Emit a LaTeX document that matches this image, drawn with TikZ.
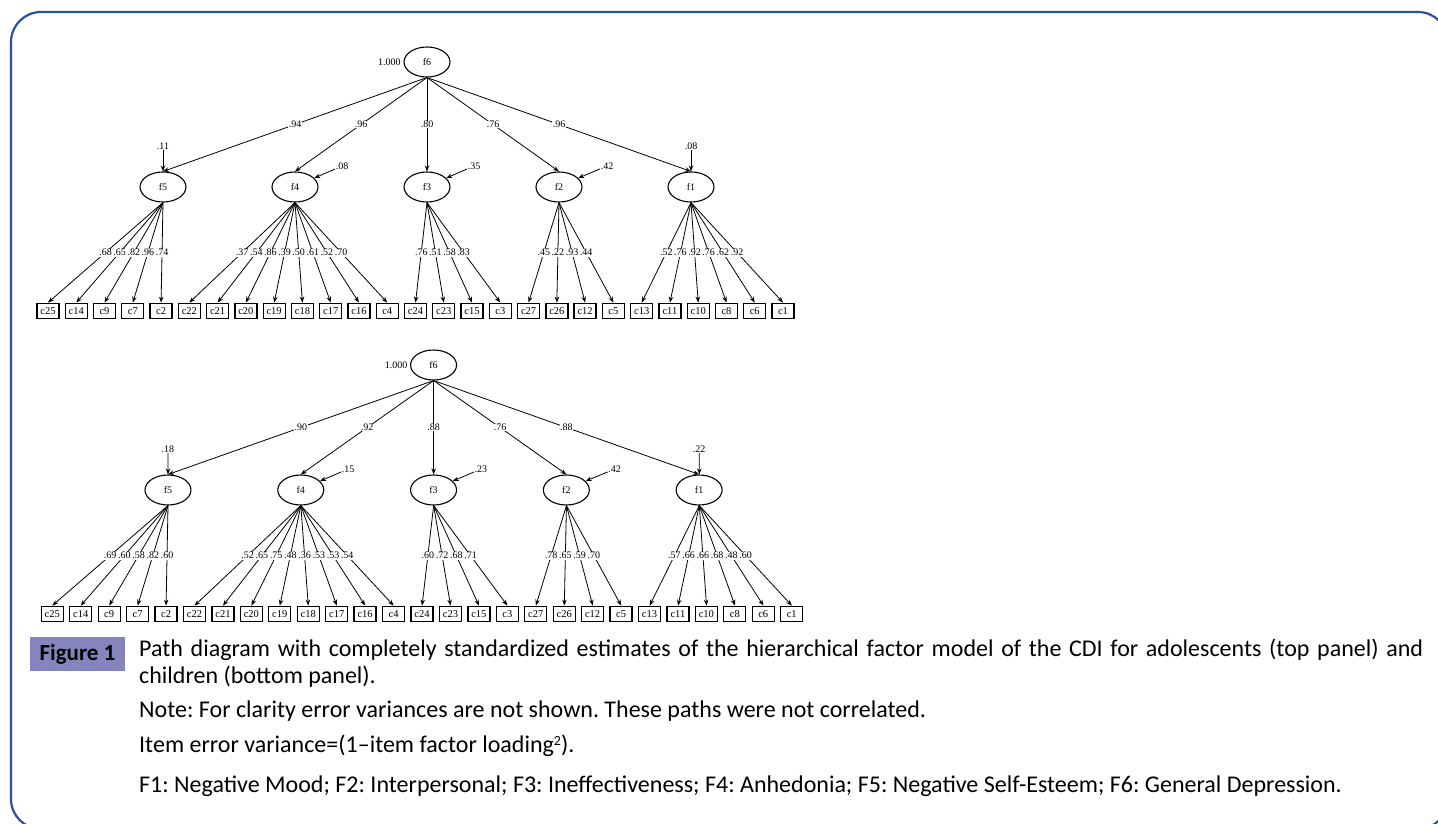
\documentclass[tikz,border=0pt]{standalone}
\usepackage{fontspec}
\setmainfont{Carlito}
\newfontfamily\semfont{Liberation Serif}
\usetikzlibrary{shapes.geometric,arrows.meta,positioning}
\frenchspacing

\definecolor{frameblue}{RGB}{46,78,160}
\definecolor{figlabel}{RGB}{134,132,188}

\tikzset{
  latent/.style={ellipse, draw, line width=1.1pt, minimum width=46pt, minimum height=30pt, inner sep=0pt, font=\semfont\fontsize{10}{10}\selectfont},
  item/.style={draw, line width=1.3pt, minimum width=22pt, minimum height=15.5pt, inner xsep=3pt, inner ysep=0pt, font=\semfont\fontsize{10.5}{10.5}\selectfont},
  load/.style={-{Stealth[length=6pt,width=4.5pt]}, line width=0.8pt},
  coef/.style={fill=white, inner sep=0.6pt, font=\semfont\fontsize{10}{10}\selectfont},
  capline/.style={anchor=base west, inner sep=0pt, font=\fontsize{24}{28}\selectfont},
}

\begin{document}
\begin{tikzpicture}[x=1pt, y=-1pt]
\useasboundingbox (0,0) rectangle (1438,824);
\clip (0,0) rectangle (1438,824);
\draw[frameblue, line width=2.2pt, rounded corners=30pt] (11,12) rectangle (1448,829);

% adolescents (top panel)
\node[latent] (af6) at (427,62) {f6};
\node[coef, left=2pt of af6] (av6) {1.000};
\foreach \f/\x/\g in {5/163/.94, 4/295/.96, 3/427/.80, 2/559/.76, 1/691/.96} {
  \node[latent] (af\f) at (\x,187) {f\f};
  \draw[load] (af6.south) -- node[coef] (ag\f) {\g} (af\f.north);
}
\node[coef] (ad5) at (163,146) {.11};
\node[coef] (ad4) at (342,166) {.08};
\node[coef] (ad3) at (474,166) {.35};
\node[coef] (ad2) at (607,166) {.42};
\node[coef] (ad1) at (691,146) {.08};
\draw[load] (ad5) -- (af5.north);
\foreach \f in {4,3,2} \draw[load] (ad\f) -- (af\f.25);
\draw[load] (ad1) -- (af1.north);
\foreach \cn/\f/\ld [count=\i from 0] in {25/5/.68, 14/5/.65, 9/5/.82, 7/5/.96, 2/5/.74,
    22/4/.37, 21/4/.54, 20/4/.86, 19/4/.39, 18/4/.50, 17/4/.61, 16/4/.52, 4/4/.70,
    24/3/.76, 23/3/.51, 15/3/.58, 3/3/.83, 27/2/.45, 26/2/.22, 12/2/.93, 5/2/.44,
    13/1/.52, 11/1/.76, 10/1/.92, 8/1/.76, 6/1/.62, 1/1/.92} {
  \node[item] (ac\cn) at ({48+28.27*\i},311) {c\cn};
  \draw[load] (af\f.south) -- node[coef] (al\cn) {\ld} (ac\cn.north);
}

% children (bottom panel)
\begin{scope}[shift={(4,303)}, xscale=1.006]
\node[latent] (bf6) at (427,62) {f6};
\node[coef, left=2pt of bf6] (bv6) {1.000};
\foreach \f/\x/\g in {5/163/.90, 4/295/.92, 3/427/.88, 2/559/.76, 1/691/.88} {
  \node[latent] (bf\f) at (\x,187) {f\f};
  \draw[load] (bf6.south) -- node[coef] (bg\f) {\g} (bf\f.north);
}
\node[coef] (bd5) at (163,146) {.18};
\node[coef] (bd4) at (342,166) {.15};
\node[coef] (bd3) at (474,166) {.23};
\node[coef] (bd2) at (607,166) {.42};
\node[coef] (bd1) at (691,146) {.22};
\draw[load] (bd5) -- (bf5.north);
\foreach \f in {4,3,2} \draw[load] (bd\f) -- (bf\f.25);
\draw[load] (bd1) -- (bf1.north);
\foreach \cn/\f/\ld [count=\i from 0] in {25/5/.69, 14/5/.60, 9/5/.58, 7/5/.82, 2/5/.60,
    22/4/.52, 21/4/.65, 20/4/.75, 19/4/.48, 18/4/.36, 17/4/.53, 16/4/.53, 4/4/.54,
    24/3/.60, 23/3/.72, 15/3/.68, 3/3/.71, 27/2/.78, 26/2/.65, 12/2/.59, 5/2/.70,
    13/1/.57, 11/1/.66, 10/1/.66, 8/1/.68, 6/1/.48, 1/1/.60} {
  \node[item] (bc\cn) at ({48+28.27*\i},311) {c\cn};
  \draw[load] (bf\f.south) -- node[coef] (bl\cn) {\ld} (bc\cn.north);
}
\end{scope}

% caption
\node[fill=figlabel, minimum width=95pt, minimum height=34pt, inner sep=0pt,
  font=\bfseries\fontsize{23}{23}\selectfont] (figlab) at (77.5,654) {Figure 1};
\node[capline] (cap1) at (139,656) {\makebox[1284pt][s]{Path diagram with completely standardized estimates of the hierarchical factor model of the CDI for adolescents (top panel) and}};
\node[capline] (cap2) at (139,683) {children (bottom panel).};
\node[capline] (cap3) at (139,717) {Note: For clarity error variances are not shown. These paths were not correlated.};
\node[capline] (cap4) at (139,752) {Item error variance=(1--item factor loading{\fontsize{14}{14}\selectfont\raisebox{7pt}{2}}).};
\node[capline] (cap5) at (139,792) {F1: Negative Mood; F2: Interpersonal; F3: Ineffectiveness; F4: Anhedonia; F5: Negative Self-Esteem; F6: General Depression.};
\end{tikzpicture}
\end{document}
